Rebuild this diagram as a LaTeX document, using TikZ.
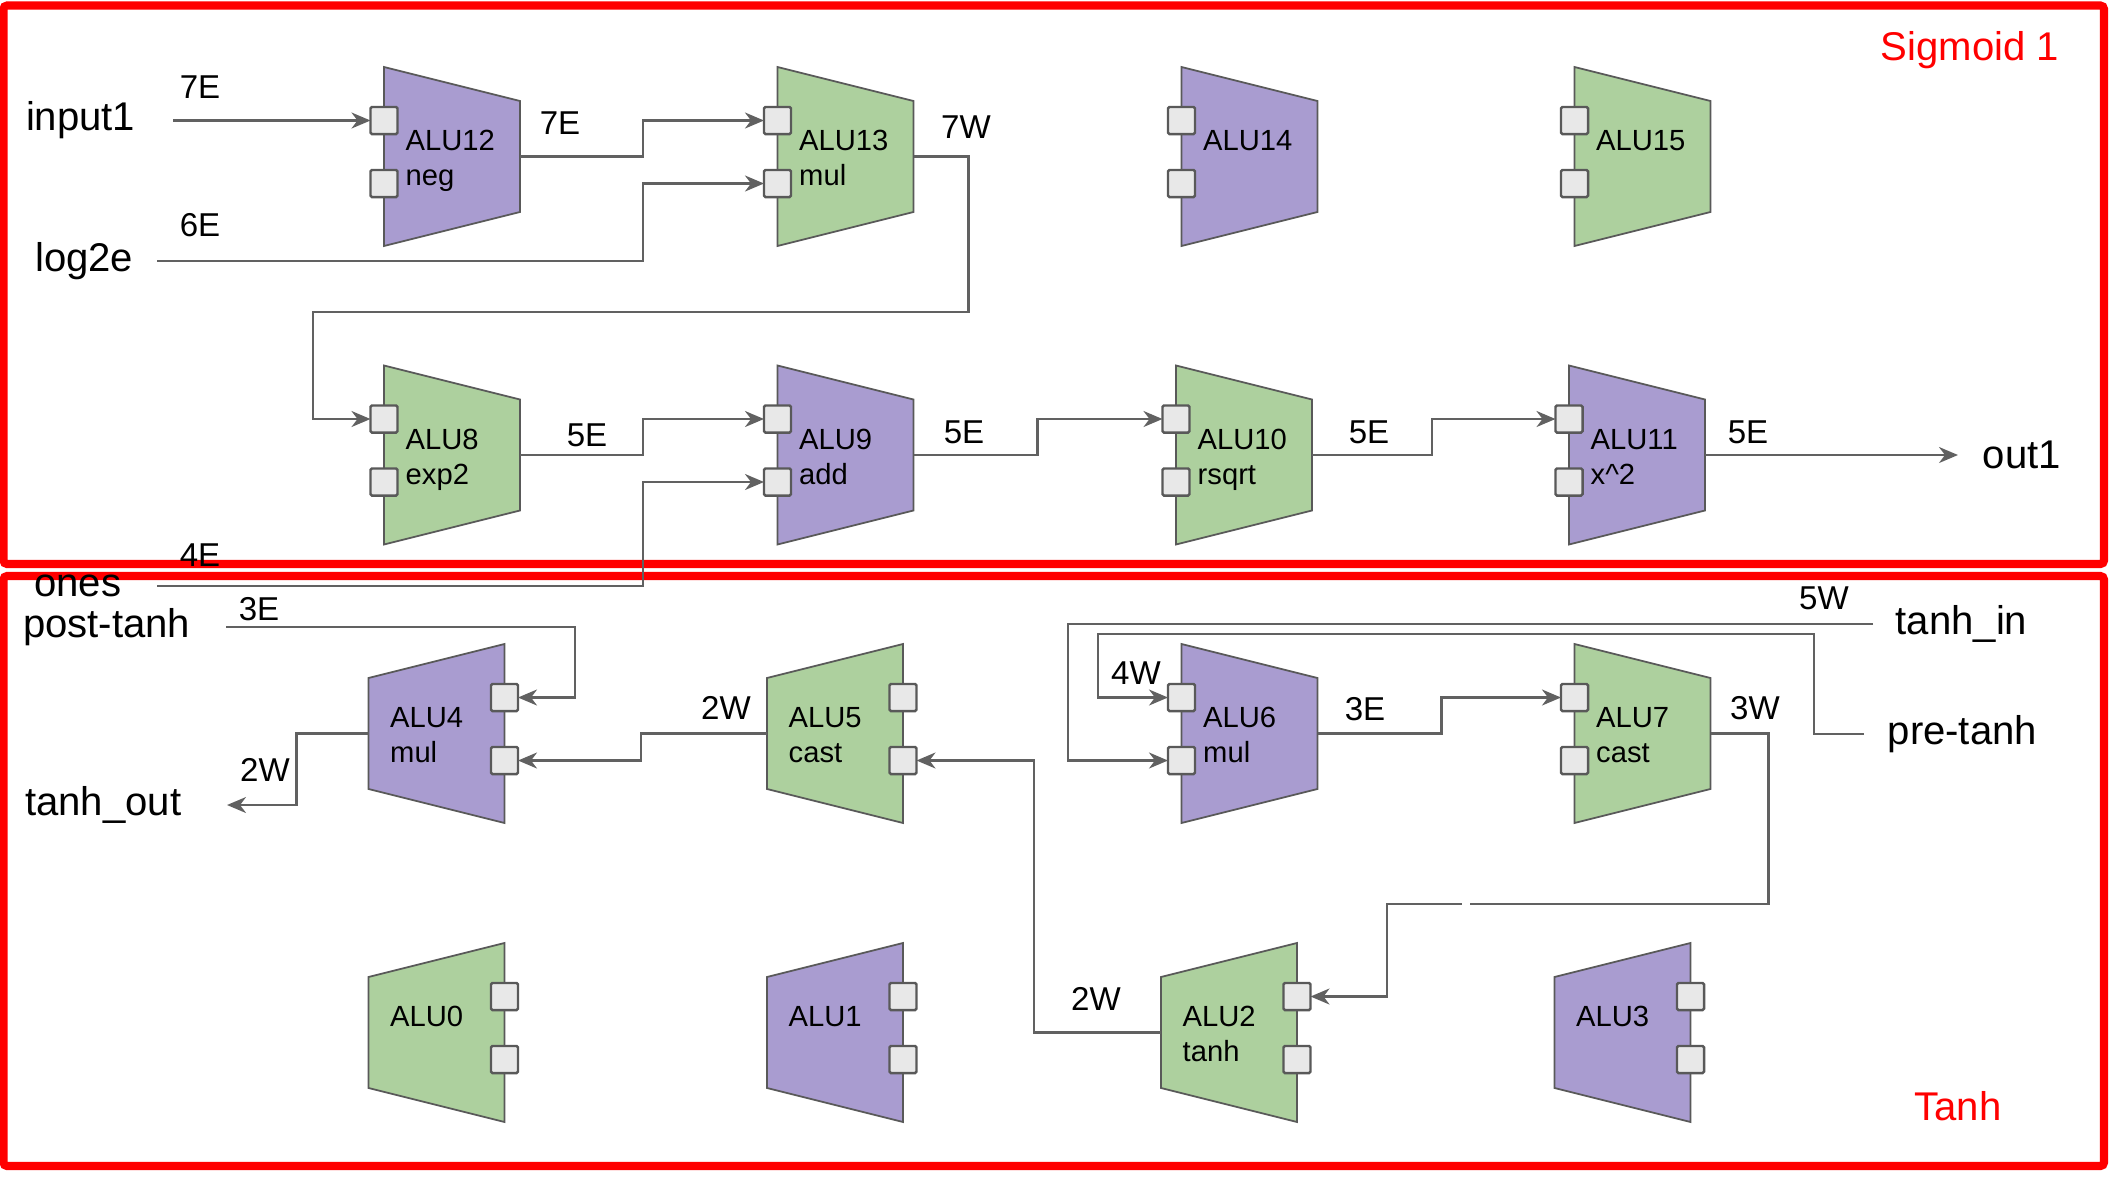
\documentclass[tikz,border=0pt]{standalone}
\usepackage{fontspec}
\setmainfont{Liberation Sans}
\usetikzlibrary{arrows.meta}

\definecolor{alupurple}{HTML}{A99CD0}
\definecolor{alugreen}{HTML}{ADD09E}
\definecolor{wiregray}{HTML}{616161}
\definecolor{portgray}{HTML}{E8E8E8}
\definecolor{edgegray}{HTML}{595959}

\tikzset{
  alubody/.style={draw=edgegray, line width=0.5pt},
  port/.style={draw=edgegray, fill=portgray, line width=0.7pt, minimum size=0.27cm, inner sep=0pt, outer sep=0pt, rounded corners=0.4pt},
  alutext/.style={font=\fontsize{8.3}{10}\selectfont, inner sep=0pt, anchor=base west},
  wire/.style={draw=wiregray, line width=0.6pt},
  io/.style={font=\fontsize{11.4}{13}\selectfont, inner sep=0pt},
  edgelbl/.style={font=\fontsize{9.4}{11}\selectfont, inner sep=0pt},
  frame/.style={draw=red, line width=2.3pt, rounded corners=1pt},
  grouplbl/.style={io, text=red}
}

% #1 name, #2 x, #3 y, #4 facing (1 right, -1 left), #5 colour, #6 label, #7 op
\newcommand{\alu}[7]{%
  \draw[alubody, fill=#5] ({#2-68*(#4)},{#3-89.5}) -- ({#2+68*(#4)},{#3-55.5})
    -- ({#2+68*(#4)},{#3+55.5}) -- ({#2-68*(#4)},{#3+89.5}) -- cycle;
  \coordinate (#1-o) at ({#2+68*(#4)},#3);
  \node[port] (#1-a) at ({#2-68*(#4)},{#3-36}) {};
  \node[port] (#1-b) at ({#2-68*(#4)},{#3+27}) {};
  \node[alutext] (#1-l) at ({#2-47},{#3-6}) {#6};
  \node[alutext] (#1-op) at ({#2-47},{#3+29}) {#7};
}

\begin{document}
\begin{tikzpicture}[x=0.01cm, y=-0.01cm, >={Stealth[length=1.9mm, width=1.6mm, inset=0.6mm]}]
\useasboundingbox (0,0) rectangle (2126,1196);

% groups
\draw[frame] (3.5,5.5) rectangle (2104,564);
\draw[frame] (3.5,576) rectangle (2104,1166);
\node[grouplbl] (sigmoid) at (1970,50) {Sigmoid 1};
\node[grouplbl] (tanhgrp) at (1958,1106) {Tanh};

% Sigmoid 1
\alu{alu12}{452}{156.5}{1}{alupurple}{ALU12}{neg}
\alu{alu13}{845.5}{156.5}{1}{alugreen}{ALU13}{mul}
\alu{alu14}{1249.5}{156.5}{1}{alupurple}{ALU14}{}
\alu{alu15}{1642.5}{156.5}{1}{alugreen}{ALU15}{}
\alu{alu8}{452}{455}{1}{alugreen}{ALU8}{exp2}
\alu{alu9}{845.5}{455}{1}{alupurple}{ALU9}{add}
\alu{alu10}{1244}{455}{1}{alugreen}{ALU10}{rsqrt}
\alu{alu11}{1637}{455}{1}{alupurple}{ALU11}{x\^{}2}

% Tanh
\alu{alu4}{436.5}{733.5}{-1}{alupurple}{ALU4}{mul}
\alu{alu5}{835}{733.5}{-1}{alugreen}{ALU5}{cast}
\alu{alu6}{1249.5}{733.5}{1}{alupurple}{ALU6}{mul}
\alu{alu7}{1642.5}{733.5}{1}{alugreen}{ALU7}{cast}
\alu{alu0}{436.5}{1032.5}{-1}{alugreen}{ALU0}{}
\alu{alu1}{835}{1032.5}{-1}{alupurple}{ALU1}{}
\alu{alu2}{1229}{1032.5}{-1}{alugreen}{ALU2}{tanh}
\alu{alu3}{1622.5}{1032.5}{-1}{alupurple}{ALU3}{}

% inputs and outputs
\node[io, anchor=east] (input1) at (136,120.5) {input1};
\node[io, anchor=east] (log2e) at (134,261) {log2e};
\node[io, anchor=east] (ones) at (122,586) {ones};
\node[io, anchor=west] (out1) at (1982,455) {out1};
\node[io, anchor=east] (post-tanh) at (191,627) {post-tanh};
\node[io, anchor=east] (tanh-out) at (182,805) {tanh\_out};
\node[io, anchor=west] (tanh-in) at (1895,624) {tanh\_in};
\node[io, anchor=west] (pre-tanh) at (1887,734) {pre-tanh};

% sigmoid wires
\draw[wire,->] ([xshift=3.7mm]input1.east) -- (alu12-a.west);
\draw[wire,->] (alu12-o) -- ++(123,0) |- (alu13-a.west);
\draw[wire,->] ([xshift=2.3mm]log2e.east) -- (643,261) |- (alu13-b.west);
\draw[wire,->] (alu13-o) -- ++(55,0) |- (313,312) |- (alu8-a.west);
\draw[wire,->] (alu8-o) -- ++(123,0) |- (alu9-a.west);
\draw[wire,->] ([xshift=3.5mm]ones.east) -- (643,586) |- (alu9-b.west);
\draw[wire,->] (alu9-o) -- ++(124,0) |- (alu10-a.west);
\draw[wire,->] (alu10-o) -- ++(120,0) |- (alu11-a.west);
\draw[wire,->] (alu11-o) -- ([xshift=-2.4mm]out1.west);

% tanh wires
\draw[wire,->] ([xshift=3.5mm]post-tanh.east) -- (575,627) |- (alu4-a.east);
\draw[wire,->] (alu5-o) -- ++(-126,0) |- (alu4-b.east);
\draw[wire,->] (alu4-o) -- ++(-72,0) |- ([xshift=4.5mm]tanh-out.east);
\draw[wire,->] (alu2-o) -- ++(-127,0) |- (alu5-b.east);
\draw[wire,->] ([xshift=-2.2mm]tanh-in.west) -- (1068,624) |- (alu6-b.west);
\draw[wire,->] ([xshift=-2.3mm]pre-tanh.west) -- (1814,734) |- (1098,634) |- (alu6-a.west);
\draw[wire,->] (alu6-o) -- ++(124,0) |- (alu7-a.west);
\draw[wire,->] (alu7-o) -- ++(58,0) |- (1387,904) |- (alu2-a.east);
\fill[white] (1462,900) rectangle (1470,908);

% widths
\node[edgelbl] (w-in1) at (200,87) {7E};
\node[edgelbl] (w-neg) at (560,123) {7E};
\node[edgelbl] (w-log) at (200,225) {6E};
\node[edgelbl] (w-mul) at (966,127) {7W};
\node[edgelbl] (w-exp) at (587,435) {5E};
\node[edgelbl] (w-ones) at (200,555) {4E};
\node[edgelbl] (w-add) at (964,432) {5E};
\node[edgelbl] (w-rsq) at (1369,432) {5E};
\node[edgelbl] (w-sq) at (1748,432) {5E};
\node[edgelbl] (w-post) at (259,609) {3E};
\node[edgelbl] (w-out) at (265,770) {2W};
\node[edgelbl] (w-cast) at (726,708) {2W};
\node[edgelbl] (w-tin) at (1824,598) {5W};
\node[edgelbl] (w-pre) at (1136,673) {4W};
\node[edgelbl] (w-mul6) at (1365,709) {3E};
\node[edgelbl] (w-cast7) at (1755,708) {3W};
\node[edgelbl] (w-tanh) at (1096,999) {2W};

\end{tikzpicture}
\end{document}
